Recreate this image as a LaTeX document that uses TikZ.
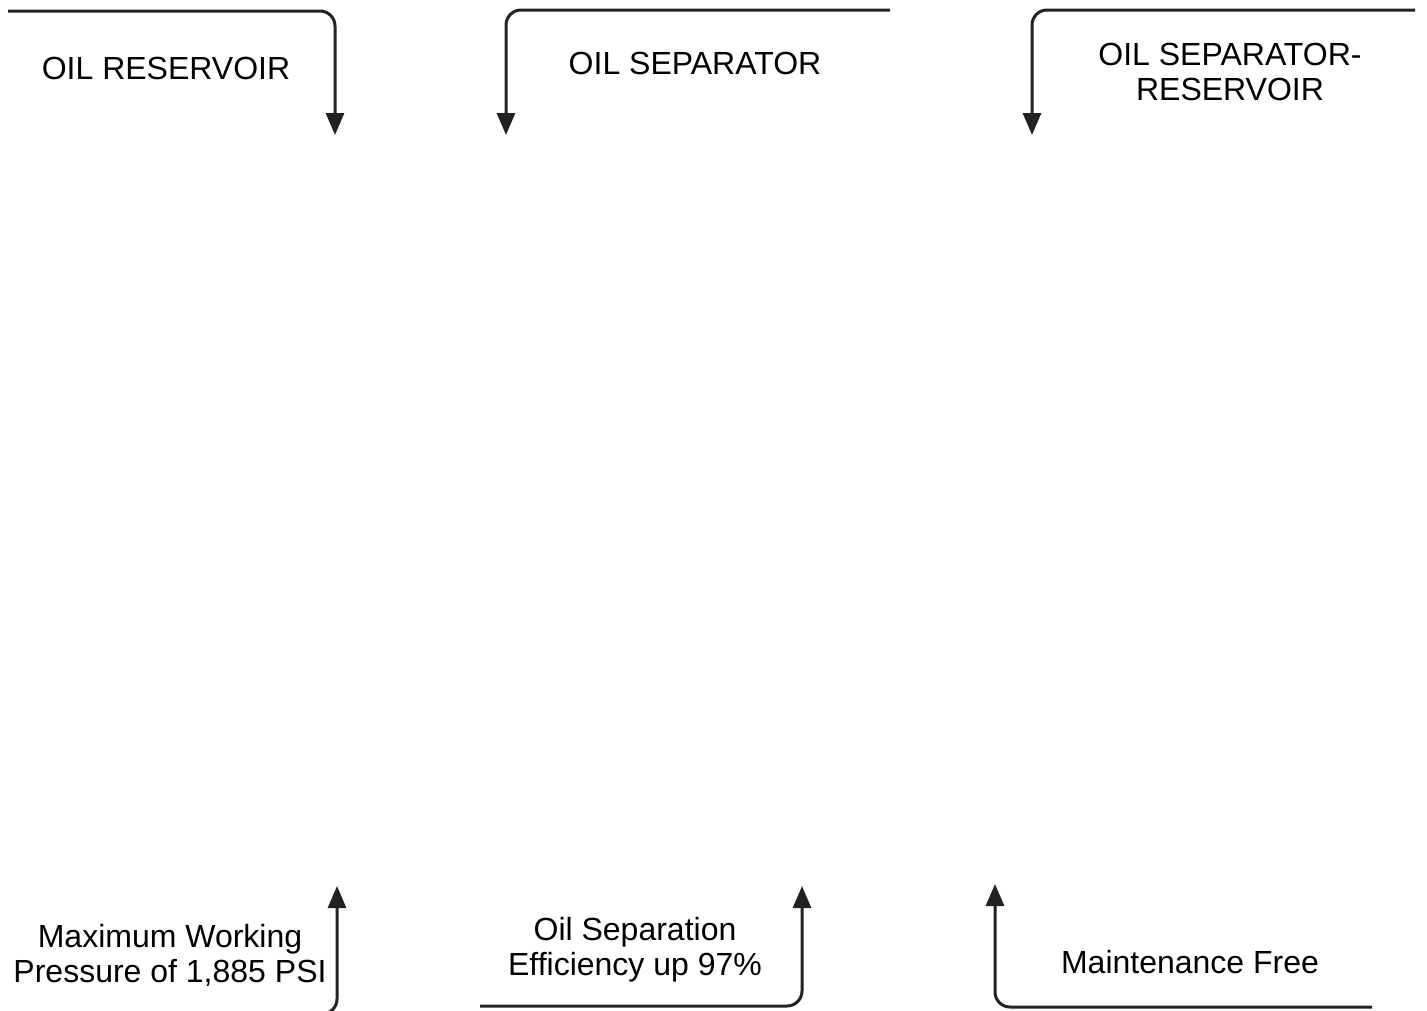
\documentclass[tikz,border=0pt]{standalone}
\usepackage{fontspec}
\setmainfont{Liberation Sans}
\usetikzlibrary{arrows.meta}
\begin{document}
\begin{tikzpicture}[x=1pt,y=-1pt,
  conn/.style={draw={rgb,255:red,34;green,34;blue,34},line width=3pt,rounded corners=15pt,
    -{Triangle[length=22pt,width=18pt]}},
  lbl/.style={inner sep=0pt,align=center,font=\fontsize{32}{35}\selectfont}]
\useasboundingbox (0,0) rectangle (1427,1010);
% labels
\node[lbl] (r) at (166,68) {OIL RESERVOIR};
\node[lbl] (s) at (695,63) {OIL SEPARATOR};
\node[lbl] (sr) at (1230,72) {OIL SEPARATOR-\\RESERVOIR};
\node[lbl] (p) at (170,955) {Maximum Working\\Pressure of 1,885 PSI};
\node[lbl] (e) at (635,950) {Oil Separation\\Efficiency up 97\%};
\node[lbl] (m) at (1190,962) {Maintenance Free};
% connector endpoints
\coordinate (a1) at (8,11);   \coordinate (a2) at (335,135);
\coordinate (b1) at (890,10); \coordinate (b2) at (506,135);
\coordinate (c1) at (1415,10);\coordinate (c2) at (1032,135);
\coordinate (d1) at (240,1014);\coordinate (d2) at (337,886);
\coordinate (e1) at (480,1006);\coordinate (e2) at (802,886);
\coordinate (f1) at (1372,1007);\coordinate (f2) at (995,884);
% connectors
\draw[conn] (a1) -| (a2);
\draw[conn] (b1) -| (b2);
\draw[conn] (c1) -| (c2);
\draw[conn] (d1) -| (d2);
\draw[conn] (e1) -| (e2);
\draw[conn] (f1) -| (f2);
\end{tikzpicture}
\end{document}
